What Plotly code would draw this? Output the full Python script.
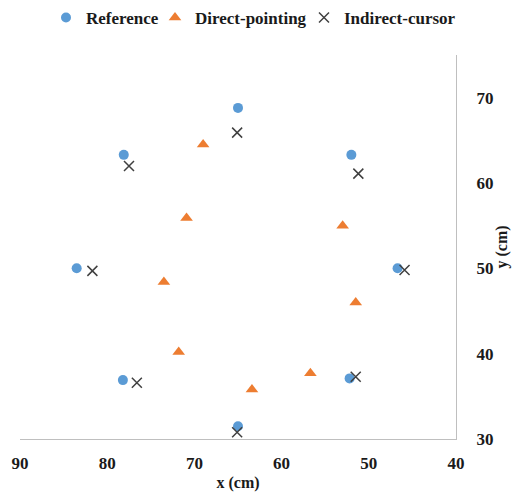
import plotly.graph_objects as go

# Reference targets
ref_x = [65.0, 78.1, 52.0, 83.5, 46.7, 78.2, 52.2, 65.0]
ref_y = [68.8, 63.3, 63.3, 50.0, 50.0, 36.9, 37.1, 31.5]

# Direct-pointing
dir_x = [69.0, 70.9, 73.5, 71.8, 63.4, 56.7, 51.5, 53.0]
dir_y = [64.5, 55.9, 48.4, 40.2, 35.8, 37.7, 46.0, 55.0]

# Indirect-cursor
ind_x = [65.1, 77.5, 81.7, 76.6, 65.1, 51.5, 45.9, 51.2]
ind_y = [65.9, 62.0, 49.7, 36.6, 30.8, 37.3, 49.8, 61.1]

x_ticks = [90, 80, 70, 60, 50, 40]
y_ticks = [30, 40, 50, 60, 70]

FONT = dict(family="Liberation Serif, Times New Roman, serif", size=17, color="#1a1a1a", weight="bold")
TITLE_FONT = dict(family="Liberation Serif, Times New Roman, serif", size=16, color="#1a1a1a", weight="bold")

W, H = 513, 494

fig = go.Figure()
fig.add_trace(go.Scatter(x=ref_x, y=ref_y, mode="markers", name="Reference", legend="legend",
                         marker=dict(symbol="circle", size=10, color="#5B9BD5")))
fig.add_trace(go.Scatter(x=dir_x, y=dir_y, mode="markers", name="Direct-pointing", legend="legend2",
                         marker=dict(symbol="triangle-up", size=11, color="#ED7D31")))
fig.add_trace(go.Scatter(x=ind_x, y=ind_y, mode="markers", name="Indirect-cursor", legend="legend3",
                         marker=dict(symbol="x-thin", size=10, color="#404040",
                                     line=dict(width=1.5, color="#404040"))))

def leg(px_left):
    return dict(orientation="h", xref="container", yref="container",
                x=px_left / W, xanchor="left", y=1 - 18 / H, yanchor="middle",
                font=FONT, itemwidth=30, bgcolor="rgba(0,0,0,0)", borderwidth=0)

fig.update_layout(
    width=W, height=H,
    margin=dict(l=20, r=513 - 456, t=55, b=494 - 439, autoexpand=False),
    paper_bgcolor="white", plot_bgcolor="white",
    font=FONT,
    showlegend=True,
    legend=leg(46), legend2=leg(155), legend3=leg(304),
    xaxis=dict(range=[90, 40], tickvals=x_ticks, showgrid=False, zeroline=False,
               showline=True, linecolor="#BFBFBF", linewidth=1, automargin=False,
               ticks="", ticklabelstandoff=9, tickfont=FONT,
               title=dict(text="x (cm)", font=TITLE_FONT, standoff=4)),
    yaxis=dict(range=[30, 75], tickvals=y_ticks, side="right", showgrid=False, zeroline=False,
               showline=True, linecolor="#BFBFBF", linewidth=1, automargin=False,
               ticks="", ticklabelstandoff=16, tickfont=FONT,
               title=dict(text="y (cm)", font=TITLE_FONT, standoff=0)),
)

fig.write_html("out.html",
               config={"displayModeBar": False},
               post_script="document.body.style.margin='0';document.body.style.overflow='hidden';")
